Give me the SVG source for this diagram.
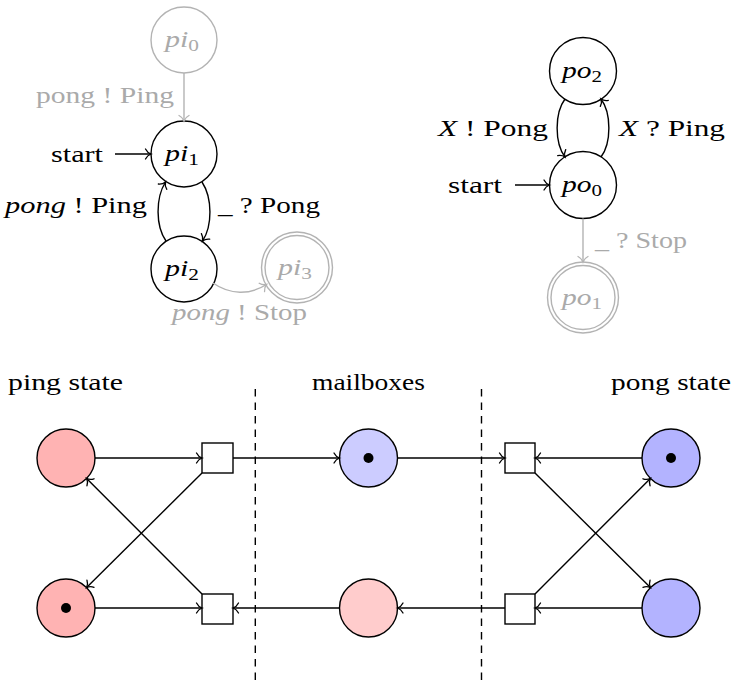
<svg xmlns="http://www.w3.org/2000/svg" width="734" height="681" viewBox="0 0 734 681" font-family="Liberation Serif, DejaVu Serif, Times New Roman, serif">
<defs>
<style>
text{font-size:22.5px;fill:#000}
.gt{fill:#aaaaaa}
.sub{font-size:16px;font-style:normal}
.it{font-style:italic}
.n{fill:#fff;stroke:#000;stroke-width:1.4}
.gn{fill:#fff;stroke:#b3b3b3;stroke-width:1.4}
.e{fill:none;stroke:#000;stroke-width:1.4;marker-end:url(#ah)}
.ge{fill:none;stroke:#b3b3b3;stroke-width:1.4;marker-end:url(#ahg)}
.d{fill:none;stroke:#000;stroke-width:1.4;stroke-dasharray:7.5 6}
.tr{fill:#fff;stroke:#000;stroke-width:1.4}
.pl{stroke:#000;stroke-width:1.4}
.tok{fill:#000}
</style>
<marker id="ah" markerUnits="userSpaceOnUse" markerWidth="14" markerHeight="14" refX="0" refY="0" viewBox="-7 -7 14 14" orient="auto" overflow="visible">
<path d="M-5.5,-5 C-4,-2 -1.5,-0.5 0,0 C-1.5,0.5 -4,2 -5.5,5" fill="none" stroke="#000" stroke-width="1.3" stroke-linecap="round"/>
</marker>
<marker id="ahg" markerUnits="userSpaceOnUse" markerWidth="14" markerHeight="14" refX="0" refY="0" viewBox="-7 -7 14 14" orient="auto" overflow="visible">
<path d="M-5.5,-5 C-4,-2 -1.5,-0.5 0,0 C-1.5,0.5 -4,2 -5.5,5" fill="none" stroke="#b3b3b3" stroke-width="1.3" stroke-linecap="round"/>
</marker>
</defs>

<!-- Ping automaton -->
<g id="pi0"><circle class="gn" cx="184" cy="40" r="33"/><text class="gt" x="182" y="47" text-anchor="middle" textLength="34" lengthAdjust="spacingAndGlyphs"><tspan class="it">pi</tspan><tspan class="sub" dy="4">0</tspan></text></g>
<g id="pi1"><circle class="n" cx="184" cy="154" r="33"/><text x="182" y="161" text-anchor="middle" textLength="34" lengthAdjust="spacingAndGlyphs"><tspan class="it">pi</tspan><tspan class="sub" dy="4">1</tspan></text></g>
<g id="pi2"><circle class="n" cx="184" cy="269" r="33"/><text x="182" y="276" text-anchor="middle" textLength="34" lengthAdjust="spacingAndGlyphs"><tspan class="it">pi</tspan><tspan class="sub" dy="4">2</tspan></text></g>
<g id="pi3"><circle class="gn" cx="297" cy="267.5" r="35.5"/><circle class="gn" cx="297" cy="267.5" r="32"/><text class="gt" x="295" y="274.5" text-anchor="middle" textLength="34" lengthAdjust="spacingAndGlyphs"><tspan class="it">pi</tspan><tspan class="sub" dy="4">3</tspan></text></g>

<!-- Pong automaton -->
<g id="po2"><circle class="n" cx="583" cy="71" r="33.5"/><text x="582" y="78" text-anchor="middle" textLength="40" lengthAdjust="spacingAndGlyphs"><tspan class="it">po</tspan><tspan class="sub" dy="4">2</tspan></text></g>
<g id="po0"><circle class="n" cx="583" cy="185" r="33.5"/><text x="582" y="192" text-anchor="middle" textLength="40" lengthAdjust="spacingAndGlyphs"><tspan class="it">po</tspan><tspan class="sub" dy="4">0</tspan></text></g>
<g id="po1"><circle class="gn" cx="583" cy="297.5" r="35.5"/><circle class="gn" cx="583" cy="297.5" r="32"/><text class="gt" x="582" y="304.5" text-anchor="middle" textLength="40" lengthAdjust="spacingAndGlyphs"><tspan class="it">po</tspan><tspan class="sub" dy="4">1</tspan></text></g>

<!-- Petri net places -->
<g id="ping-top"><circle class="pl" cx="66" cy="458" r="29" fill="#ffb3b3"/></g>
<g id="ping-bottom"><circle class="pl" cx="66" cy="608" r="29" fill="#ffb3b3"/><circle class="tok" cx="66" cy="608" r="5"/></g>
<g id="mail-top"><circle class="pl" cx="368.5" cy="458" r="29" fill="#ccccff"/><circle class="tok" cx="368.5" cy="458" r="5"/></g>
<g id="mail-bottom"><circle class="pl" cx="368.5" cy="608" r="29" fill="#ffcccc"/></g>
<g id="pong-top"><circle class="pl" cx="671" cy="458" r="29" fill="#b3b3ff"/><circle class="tok" cx="671" cy="458" r="5"/></g>
<g id="pong-bottom"><circle class="pl" cx="671" cy="608" r="29" fill="#b3b3ff"/></g>

<!-- Transitions -->
<g id="t1"><rect class="tr" x="202" y="443" width="31" height="30"/></g>
<g id="t2"><rect class="tr" x="202" y="594" width="31" height="30"/></g>
<g id="t3"><rect class="tr" x="505" y="443" width="30" height="30"/></g>
<g id="t4"><rect class="tr" x="505" y="594" width="30" height="30"/></g>

<!-- Connectors -->
<g id="connectors">
<path class="ge" d="M184,73 L184,121"/>
<path class="e" d="M115,154 L151,154"/>
<path class="e" d="M202,182 C212.5,198 212.5,226 202.5,241"/>
<path class="e" d="M166,241 C155.5,226 155.5,198 165.5,182"/>
<path class="ge" d="M213,283 C230,295 250,295 266.5,284.5"/>

<path class="e" d="M515,185 L549.5,185"/>
<path class="e" d="M565,99 C554.5,113 554.5,143 565,157"/>
<path class="e" d="M601,157 C611.5,143 611.5,113 601,99"/>
<path class="ge" d="M583,218.5 L583,262"/>

<path class="e" d="M95,458 L202,458"/>
<path class="e" d="M233,458 L339.5,458"/>
<path class="e" d="M202,473 L86.6,587.6"/>
<path class="e" d="M202,594 L86.6,478.4"/>
<path class="e" d="M95,608 L202,608"/>
<path class="e" d="M339.5,608 L233,608"/>
<path class="e" d="M397.5,458 L505,458"/>
<path class="e" d="M642,458 L535,458"/>
<path class="e" d="M535,473 L650.4,587.6"/>
<path class="e" d="M535,594 L650.4,478.4"/>
<path class="e" d="M642,608 L535,608"/>
<path class="e" d="M505,608 L397.5,608"/>
</g>

<!-- Dashed separators -->
<path class="d" d="M255.3,389 L255.3,681"/>
<path class="d" d="M481.5,389 L481.5,681"/>

<!-- Labels -->
<g id="labels">
<text class="gt" x="36" y="103" textLength="138" lengthAdjust="spacingAndGlyphs">pong ! Ping</text>
<text x="51" y="162" textLength="52" lengthAdjust="spacingAndGlyphs">start</text>
<text x="5" y="213" textLength="142" lengthAdjust="spacingAndGlyphs"><tspan class="it">pong</tspan> ! Ping</text>
<text x="218" y="213" textLength="102" lengthAdjust="spacingAndGlyphs">_ ? Pong</text>
<text class="gt" x="172" y="320" textLength="135" lengthAdjust="spacingAndGlyphs"><tspan class="it">pong</tspan> ! Stop</text>

<text x="438" y="136" textLength="110" lengthAdjust="spacingAndGlyphs"><tspan class="it">X</tspan> ! Pong</text>
<text x="619" y="136" textLength="106" lengthAdjust="spacingAndGlyphs"><tspan class="it">X</tspan> ? Ping</text>
<text x="448" y="193" textLength="54" lengthAdjust="spacingAndGlyphs">start</text>
<text class="gt" x="595" y="248" textLength="92" lengthAdjust="spacingAndGlyphs">_ ? Stop</text>

<text x="8" y="390" textLength="115" lengthAdjust="spacingAndGlyphs">ping state</text>
<text x="312" y="390" textLength="113" lengthAdjust="spacingAndGlyphs">mailboxes</text>
<text x="611" y="390" textLength="120" lengthAdjust="spacingAndGlyphs">pong state</text>
</g>
</svg>
